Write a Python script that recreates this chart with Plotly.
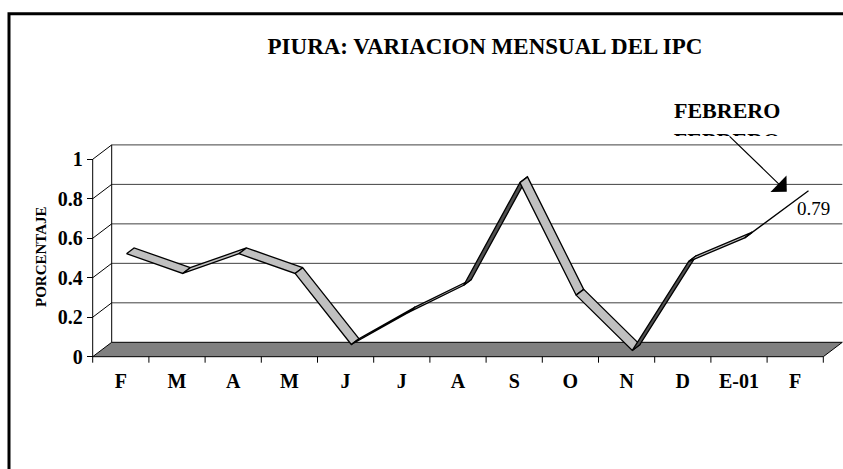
import plotly.graph_objects as go

# ---------------- data ----------------
categories = ["F", "M", "A", "M", "J", "J", "A", "S", "O", "N", "D", "E-01", "F"]
values = [0.50, 0.40, 0.50, 0.40, 0.04, 0.20, 0.34, 0.86, 0.29, 0.01, 0.46, 0.58, 0.79]
y_tick_vals = [0, 0.2, 0.4, 0.6, 0.8, 1]
y_tick_text = ["0", "0.2", "0.4", "0.6", "0.8", "1"]
title_text = "PIURA: VARIACION MENSUAL DEL IPC"
y_title = "PORCENTAJE"
callout_text = "FEBRERO"

# ---------------- geometry (pixels) ----------------
W, H = 843, 469
X0PX, CAT_PX = 92.7, 56.2        # front x-axis origin and category width
Y0PX, UNIT_PX = 356.7, 197.4     # front value-axis origin and px per unit
DEPTH_PX = (19.0, -14.4)         # full 3D depth offset in pixels
DX = DEPTH_PX[0] / CAT_PX
DY = -DEPTH_PX[1] / UNIT_PX
D1, D2 = 0.3, 0.7                # ribbon depth span
x_range = [-X0PX / CAT_PX, (W - X0PX) / CAT_PX]
y_range = [(Y0PX - H) / UNIT_PX, Y0PX / UNIT_PX]

FONT = "Liberation Serif"
LIGHT = "#c0c0c0"
DARK = "#505050"
FLOOR = "#808080"

n = len(categories)
centers = [i + 0.5 for i in range(n)]
vmax = y_tick_vals[-1]

fig = go.Figure()

# ---------------- walls / floor (shapes) ----------------
shapes = []
line_k = dict(color="black", width=1)
# floor
shapes.append(dict(type="path", xref="x", yref="y", layer="below",
                   path=f"M0,0 L{n},0 L{n+DX},{DY} L{DX},{DY} Z",
                   fillcolor=FLOOR, line=line_k))
# back wall + left wall gridlines
for v in y_tick_vals[1:]:
    shapes.append(dict(type="line", xref="x", yref="y", layer="below",
                       x0=DX, y0=v + DY, x1=n + DX, y1=v + DY,
                       line=dict(color="#404040", width=1)))
    shapes.append(dict(type="line", xref="x", yref="y", layer="below",
                       x0=0, y0=v, x1=DX, y1=v + DY, line=line_k))
# left wall back edge
shapes.append(dict(type="line", xref="x", yref="y", layer="below",
                   x0=DX, y0=DY, x1=DX, y1=vmax + DY, line=line_k))
# front value axis line
shapes.append(dict(type="line", xref="x", yref="y", layer="below",
                   x0=0, y0=0, x1=0, y1=vmax, line=line_k))
# category tick marks at boundaries
for i in range(n + 1):
    shapes.append(dict(type="line", xref="x", yref="y", layer="below",
                       x0=i, y0=0, x1=i, y1=-6 / UNIT_PX, line=line_k))
# outer frame
shapes.append(dict(type="rect", xref="paper", yref="paper", layer="above",
                   x0=9 / W, y0=-0.05, x1=1.05, y1=1 - 13.8 / H,
                   line=dict(color="black", width=3), fillcolor="rgba(0,0,0,0)"))

# ---------------- ribbon ----------------
for i in range(n - 1):
    xa, xb = centers[i], centers[i + 1]
    va, vb = values[i], values[i + 1]
    xs = [xa + D1 * DX, xb + D1 * DX, xb + D2 * DX, xa + D2 * DX, xa + D1 * DX]
    ys = [va + D1 * DY, vb + D1 * DY, vb + D2 * DY, va + D2 * DY, va + D1 * DY]
    seg = ((xb - xa) * CAT_PX, -(vb - va) * UNIT_PX)
    dep = (DEPTH_PX[0] * (D2 - D1), DEPTH_PX[1] * (D2 - D1))
    cross = seg[0] * dep[1] - seg[1] * dep[0]
    color = LIGHT if cross < 0 else DARK
    fig.add_trace(go.Scatter(x=xs, y=ys, mode="lines", fill="toself",
                             fillcolor=color, line=dict(color="black", width=1.3),
                             hoverinfo="skip", showlegend=False))

# ---------------- annotations ----------------
annotations = []
annotations.append(dict(text=f"<b>{y_title}</b>", xref="paper", yref="paper",
                        x=41 / W, y=1 - 257 / H, xanchor="center", yanchor="middle",
                        showarrow=False, textangle=-90,
                        font=dict(family=FONT, size=15, color="black")))
annotations.append(dict(text=f"{values[-1]:.2f}", xref="x", yref="y",
                        x=centers[-1], y=values[-1], xshift=18, yshift=-8,
                        xanchor="center", yanchor="middle",
                        showarrow=False, font=dict(family=FONT, size=19, color="black")))
annotations.append(dict(text=f"<b>{callout_text}</b>", xref="paper", yref="paper",
                        x=727 / W, y=1 - 111 / H, xanchor="center", yanchor="middle",
                        showarrow=False,
                        font=dict(family=FONT, size=22, color="black")))
# second, clipped copy of the callout (only its top slice shows)
annotations.append(dict(text=f"<b>{callout_text}</b>", xref="paper", yref="paper",
                        x=727 / W, y=1 - 127 / H, xanchor="center", yanchor="top",
                        width=130, height=8, valign="top", borderpad=0,
                        showarrow=False, font=dict(family=FONT, size=22, color="black")))
# arrow
annotations.append(dict(text="", xref="x", yref="y", x=12.35, y=0.836,
                        axref="pixel", ayref="pixel", ax=-58.7, ay=-56.7,
                        showarrow=True, arrowhead=1, arrowsize=3.2, arrowwidth=1.2,
                        arrowcolor="black", standoff=0))

fig.update_layout(
    width=W, height=H,
    margin=dict(l=0, r=0, t=0, b=0, pad=0),
    paper_bgcolor="white", plot_bgcolor="white",
    showlegend=False,
    shapes=shapes,
    annotations=annotations,
    title=dict(text=f"<b>{title_text}</b>", x=485 / W, y=1 - 46 / H,
               xref="paper", yref="container", xanchor="center", yanchor="middle",
               font=dict(family=FONT, size=23, color="black")),
    xaxis=dict(range=x_range, domain=[0, 1], anchor="free", position=1 - Y0PX / H,
               tickmode="array", tickvals=centers, ticktext=[f"<b>{c}</b>" for c in categories],
               ticks="", ticklabelstandoff=10, showgrid=False, zeroline=False, showline=False,
               tickfont=dict(family=FONT, size=20, color="black")),
    yaxis=dict(range=y_range, domain=[0, 1], anchor="free", position=X0PX / W,
               tickmode="array", tickvals=y_tick_vals, ticktext=[f"<b>{t}</b>" for t in y_tick_text],
               ticks="outside", ticklen=6, tickwidth=1, tickcolor="black",
               showgrid=False, zeroline=False, showline=False,
               tickfont=dict(family=FONT, size=20, color="black")),
)

fig.write_html("out.html", config={"displayModeBar": False},
               post_script="document.body.style.margin='0px';document.body.style.overflow='hidden';")
